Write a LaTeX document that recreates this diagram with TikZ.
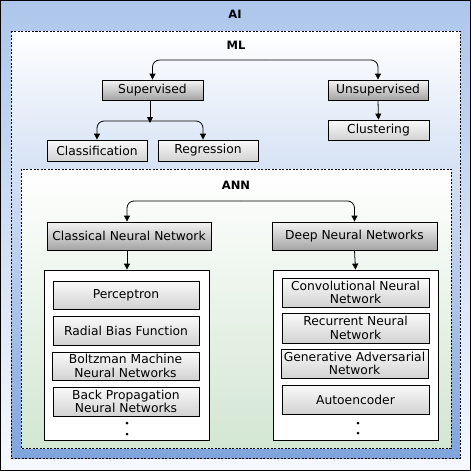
\documentclass[tikz,border=0pt]{standalone}
\usepackage{fontspec}
\setmainfont{DejaVu Sans}
\usetikzlibrary{arrows.meta}
\definecolor{aitop}{HTML}{ADC6EB}
\definecolor{aibot}{HTML}{F6F9FE}
\definecolor{mlbot}{HTML}{7FA4DD}
\definecolor{annbot}{HTML}{D3E6D3}
\definecolor{gtop}{HTML}{F4F4F4}
\definecolor{gbot}{HTML}{A4A4A4}
\definecolor{ltop}{HTML}{FAFAFA}
\definecolor{lbot}{HTML}{D2D2D2}
\tikzset{
  lbl/.style={font=\fontsize{12.3}{13.6}\selectfont, inner sep=0pt, align=center},
  ttl/.style={font=\bfseries\fontsize{11.5}{13}\selectfont, inner sep=0pt},
  darkbox/.style={lbl, draw=black, line width=0.8pt, top color=gtop, bottom color=gbot},
  lightbox/.style={lbl, draw=black, line width=0.8pt, top color=ltop, bottom color=lbot},
  listbox/.style={draw=black, line width=0.8pt, fill=white, inner sep=0pt},
  frame/.style={draw=black, line width=0.8pt, dashed, dash pattern=on 2pt off 1.5pt},
  arr/.style={draw=black, line width=0.8pt, -{Triangle[length=6pt,width=6pt]}},
}
\begin{document}
\begin{tikzpicture}[x=1pt,y=-1pt]
\useasboundingbox (0,0) rectangle (471,471);
% AI frame
\draw[black, line width=1pt, top color=aitop, bottom color=aibot] (0.5,0.5) rectangle (470.5,470.5);
\node[ttl] (ai) at (235,14) {AI};
% ML frame
\draw[frame, top color=white, bottom color=mlbot] (11,31) rectangle (460,458);
\node[ttl] (ml) at (236,45) {ML};
% ANN frame
\draw[frame, top color=white, bottom color=annbot] (21,169) rectangle (451,448);
\node[ttl] (ann) at (236,185) {ANN};

% ML nodes
\node[darkbox, minimum width=101pt, minimum height=20pt] (sup) at (152.5,90) {Supervised};
\node[darkbox, minimum width=100pt, minimum height=20pt] (uns) at (378,90) {Unsupervised};
\node[lightbox, minimum width=100pt, minimum height=21pt] (cls) at (97,150.5) {Classification};
\node[lightbox, minimum width=100pt, minimum height=21pt] (reg) at (208,150.5) {Regression};
\node[lightbox, minimum width=101pt, minimum height=20pt] (clu) at (378.5,130) {Clustering};

\coordinate (mlbar) at (265,60);
\draw[arr, rounded corners=7pt] (mlbar) -| (sup.north);
\draw[arr, rounded corners=7pt] (mlbar) -| (uns.north);

\coordinate (supbar) at (150,121);
\draw[arr] (sup.south -| supbar) -- ([yshift=-2pt]supbar);
\draw[arr, rounded corners=7pt] (supbar) -| (cls.north);
\draw[arr, rounded corners=7pt] (supbar) -| ([xshift=-5pt]reg.north);
\draw[arr] (uns.south) -- (clu.north);

% ANN nodes
\node[darkbox, minimum width=164pt, minimum height=28pt] (cnn) at (129,236) {Classical Neural Network};
\node[darkbox, minimum width=165pt, minimum height=28pt] (dnn) at (354.5,236) {Deep Neural Networks};
\coordinate (annbar) at (240,201);
\draw[arr, rounded corners=7pt] (annbar) -| ([xshift=-2pt]cnn.north);
\draw[arr, rounded corners=7pt] (annbar) -| (dnn.north);

\node[listbox, minimum width=165pt, minimum height=170pt] (cl) at (126.5,355) {};
\node[listbox, minimum width=165pt, minimum height=170pt] (dl) at (355.5,355) {};
\draw[arr] ([xshift=-2pt]cnn.south) -- ([xshift=0.5pt]cl.north);
\draw[arr] (dnn.south) -- (dl.north);

% classical list
\node[lightbox, minimum width=146pt, minimum height=28pt] (p1) at (126,295) {Perceptron};
\node[lightbox, minimum width=146pt, minimum height=29pt] (p2) at (126,330.5) {Radial Bias Function};
\node[lightbox, minimum width=147pt, minimum height=28pt] (p3) at (125.5,366) {Boltzman Machine\\Neural Networks};
\node[lightbox, minimum width=146pt, minimum height=29pt] (p4) at (126,401.5) {Back Propagation\\Neural Networks};
\fill (127,423) circle (1.5pt);
\fill (127,434) circle (1.5pt);

% deep list
\node[lightbox, minimum width=147pt, minimum height=29pt] (q1) at (355.5,292.5) {Convolutional Neural\\Network};
\node[lightbox, minimum width=147pt, minimum height=30pt] (q2) at (355.5,328) {Recurrent Neural\\Network};
\node[lightbox, minimum width=147pt, minimum height=29pt] (q3) at (354.5,363.5) {Generative Adversarial\\Network};
\node[lightbox, minimum width=147pt, minimum height=29pt] (q4) at (355.5,399.5) {Autoencoder};
\fill (358,423) circle (1.5pt);
\fill (358,433) circle (1.5pt);
\end{tikzpicture}
\end{document}
